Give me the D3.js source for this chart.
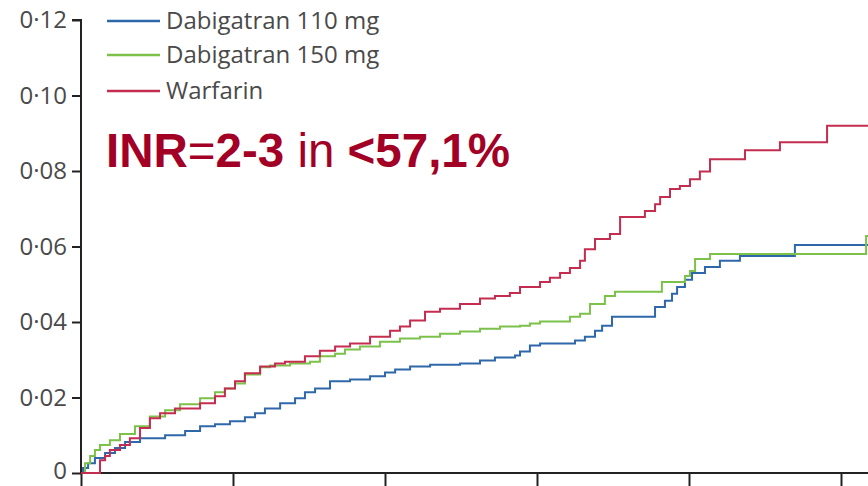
<!DOCTYPE html>
<html>
<head>
<meta charset="utf-8">
<script src="https://cdn.jsdelivr.net/npm/d3@7"></script>
<style>
  body { margin: 0; background: #fff; }
  svg { display: block; }
</style>
</head>
<body>
<svg id="chart" width="868" height="486"></svg>
<script>
// months since randomisation, cumulative hazard
const dab110_months = [0, 0.08, 0.28, 0.55, 0.95, 1.34, 1.74, 2.33, 3.32, 4.11, 4.70, 5.29, 5.88, 6.47, 6.87, 7.26, 7.86, 8.45, 8.84, 9.24, 9.83, 10.62, 11.41, 12.00, 12.40, 12.99, 13.78, 14.96, 15.75, 16.34, 17.13, 17.33, 17.72, 18.12, 19.50, 19.89, 20.29, 20.57, 20.96, 22.66, 23.05, 23.33, 23.53, 23.84, 24.12, 24.63, 25.22, 26.01, 28.18, 31.3]
const dab110_values = [0, 0.0013, 0.0026, 0.0040, 0.0053, 0.0066, 0.0082, 0.0092, 0.0100, 0.0111, 0.0124, 0.0129, 0.0137, 0.0148, 0.0158, 0.0171, 0.0185, 0.0198, 0.0214, 0.0224, 0.0243, 0.0248, 0.0256, 0.0266, 0.0274, 0.0282, 0.0287, 0.0290, 0.0298, 0.0306, 0.0311, 0.0322, 0.0338, 0.0343, 0.0351, 0.0361, 0.0377, 0.0390, 0.0414, 0.0440, 0.0456, 0.0475, 0.0493, 0.0512, 0.0530, 0.0546, 0.0562, 0.0575, 0.0604, 0.0604]

const dab150_months = [0, 0.16, 0.36, 0.55, 0.75, 1.14, 1.54, 2.13, 2.72, 3.32, 3.91, 4.70, 5.29, 5.68, 6.08, 6.47, 7.07, 7.46, 8.25, 9.04, 9.43, 10.03, 10.42, 11.01, 11.80, 12.59, 13.38, 14.17, 14.96, 15.75, 16.54, 17.33, 17.72, 18.12, 19.30, 19.70, 20.09, 20.68, 21.08, 22.93, 23.84, 24.04, 24.24, 24.83, 30.99, 31.3]
const dab150_values = [0, 0.0026, 0.0045, 0.0061, 0.0074, 0.0087, 0.0103, 0.0124, 0.0150, 0.0166, 0.0182, 0.0198, 0.0214, 0.0224, 0.0237, 0.0261, 0.0280, 0.0285, 0.0290, 0.0295, 0.0309, 0.0316, 0.0327, 0.0335, 0.0348, 0.0356, 0.0361, 0.0369, 0.0375, 0.0382, 0.0388, 0.0390, 0.0396, 0.0401, 0.0414, 0.0422, 0.0448, 0.0469, 0.0480, 0.0506, 0.0522, 0.0535, 0.0567, 0.0580, 0.0628, 0.0628]

const warf_months = [0, 0.63, 0.75, 0.95, 1.14, 1.54, 1.93, 2.33, 2.72, 3.12, 3.71, 4.70, 5.29, 5.68, 6.08, 6.47, 7.07, 7.66, 8.05, 8.84, 9.43, 10.03, 10.62, 11.41, 12.20, 12.59, 12.99, 13.58, 14.17, 14.96, 15.75, 16.34, 16.93, 17.33, 18.12, 18.51, 18.91, 19.30, 19.70, 19.89, 20.29, 20.88, 21.28, 22.26, 22.66, 22.86, 23.25, 23.64, 24.04, 24.43, 24.83, 26.21, 27.59, 29.45, 31.3]
const warf_values = [0, 0, 0.0034, 0.0045, 0.0061, 0.0074, 0.0092, 0.0119, 0.0145, 0.0158, 0.0171, 0.0185, 0.0203, 0.0224, 0.0243, 0.0264, 0.0282, 0.0290, 0.0295, 0.0309, 0.0324, 0.0335, 0.0343, 0.0361, 0.0377, 0.0388, 0.0404, 0.0427, 0.0435, 0.0448, 0.0462, 0.0469, 0.0477, 0.0493, 0.0506, 0.0517, 0.0530, 0.0543, 0.0562, 0.0593, 0.0620, 0.0633, 0.0678, 0.0694, 0.0712, 0.0731, 0.0752, 0.0760, 0.0778, 0.0799, 0.0831, 0.0855, 0.0876, 0.0920, 0.0920]

const y_ticks = [0, 0.02, 0.04, 0.06, 0.08, 0.10, 0.12]
const x_ticks = [0, 6, 12, 18, 24, 30]
const legend_names = ["Dabigatran 110 mg", "Dabigatran 150 mg", "Warfarin"]
const colors = ["#2f68aa", "#7cc14a", "#c42d50"]

const svg = d3.select("#chart")
const x = d3.scaleLinear().domain([0, 30]).range([81, 841])
const y = d3.scaleLinear().domain([0, 0.12]).range([473, 20])

const series = [
  d3.zip(dab110_months, dab110_values),
  d3.zip(dab150_months, dab150_values),
  d3.zip(warf_months, warf_values)
]

const line = d3.line()
  .x(d => x(d[0]))
  .y(d => y(d[1]))
  .curve(d3.curveStepAfter)

// y axis
const y_axis = d3.axisLeft(y)
  .tickValues(y_ticks)
  .tickSize(9)
  .tickPadding(5)
  .tickFormat(d => d === 0 ? "0" : d3.format(".2f")(d).replace(".", "\u00b7"))

svg.append("g")
  .attr("transform", "translate(81,0)")
  .call(y_axis)
  .call(g => g.select(".domain").attr("stroke", "#222").attr("stroke-width", 2).attr("d", "M-9,20H0V473"))
  .call(g => g.selectAll(".tick line").attr("stroke", "#222").attr("stroke-width", 2))
  .call(g => g.selectAll(".tick text")
    .attr("fill", "#4a4a4a")
    .attr("dy", d => d === 0 ? "0.24em" : "0.32em")
    .style("font-family", "'Open Sans', sans-serif")
    .style("font-size", "24px"))

// x axis (labels are off the bottom edge)
const x_axis = d3.axisBottom(x).tickValues(x_ticks).tickSize(14).tickFormat("")
svg.append("g")
  .attr("transform", "translate(0,473)")
  .call(x_axis)
  .call(g => g.select(".domain").attr("stroke", "#222").attr("stroke-width", 2).attr("d", "M81,0H880"))
  .call(g => g.selectAll(".tick line").attr("stroke", "#222").attr("stroke-width", 2))

// curves
svg.selectAll(".km")
  .data(series)
  .enter()
  .append("path")
  .attr("class", "km")
  .attr("d", line)
  .attr("fill", "none")
  .attr("stroke", (d, i) => colors[i])
  .attr("stroke-width", 2)

// legend
const legend = svg.selectAll(".leg")
  .data(legend_names)
  .enter()
  .append("g")
  .attr("class", "leg")
  .attr("transform", (d, i) => `translate(107, ${[21, 55, 91][i]})`)
legend.append("line")
  .attr("x1", 0).attr("x2", 53)
  .attr("stroke", (d, i) => colors[i])
  .attr("stroke-width", 2.5)
legend.append("text")
  .attr("x", 59)
  .attr("y", 8)
  .attr("fill", "#4a4a4a")
  .style("font-family", "'Open Sans', sans-serif")
  .style("font-size", "24px")
  .text(d => d)

// annotation
const note = svg.append("text")
  .attr("x", 106)
  .attr("y", 167)
  .attr("fill", "#a30026")
  .style("font-family", "'Liberation Sans', Arial, sans-serif")
  .style("font-size", "47.5px")
note.append("tspan").attr("font-weight", "bold").text("INR")
note.append("tspan").text("=")
note.append("tspan").attr("font-weight", "bold").text("2-3")
note.append("tspan").text(" in ")
note.append("tspan").attr("font-weight", "bold").text("<57,1%")
</script>
</body>
</html>
